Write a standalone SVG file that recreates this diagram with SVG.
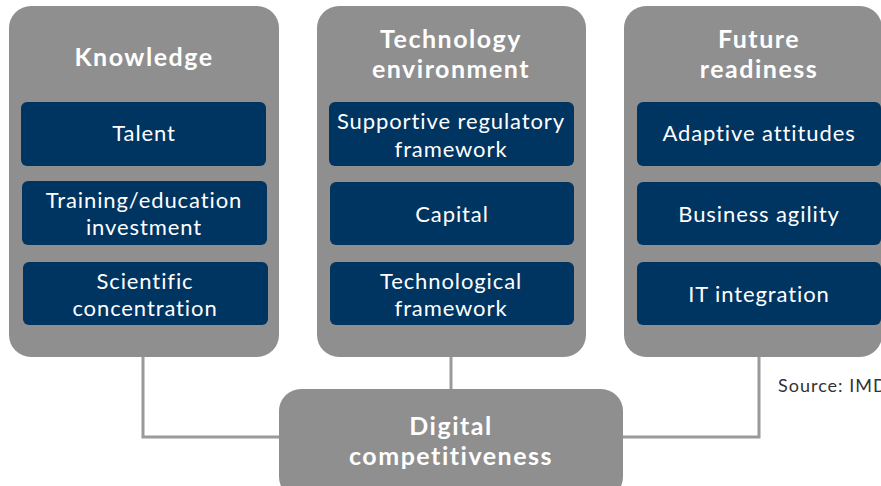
<svg xmlns="http://www.w3.org/2000/svg" width="881" height="486" viewBox="0 0 881 486">
  <style>
    .panel { fill: #8f8f8f; }
    .item { fill: #003461; }
    .title { font-family: Lato, "Open Sans", sans-serif; font-weight: 700; font-size: 25px; fill: #ffffff; text-anchor: middle; letter-spacing: 1.5px; }
    .label { font-family: Lato, "Open Sans", sans-serif; font-weight: 400; font-size: 22px; fill: #ffffff; text-anchor: middle; letter-spacing: 0.9px; }
    .link { fill: none; stroke: #9a9a9a; stroke-width: 3; }
    .note { font-family: Lato, "Open Sans", sans-serif; font-size: 18px; fill: #333333; letter-spacing: 1px; }
  </style>

  <rect width="881" height="486" fill="#ffffff"/>

  <!-- connectors -->
  <g id="connectors">
    <polyline class="link" points="143,357 143,437 280,437"/>
    <line class="link" x1="451" y1="357" x2="451" y2="390"/>
    <polyline class="link" points="759,357 759,437 622,437"/>
  </g>

  <!-- Knowledge pillar -->
  <g id="knowledge">
    <rect class="panel" x="9" y="6" width="270" height="351" rx="22"/>
    <text class="title" x="144" y="66">Knowledge</text>
    <rect class="item" x="21" y="102" width="245" height="64" rx="6"/>
    <text class="label" x="144" y="141">Talent</text>
    <rect class="item" x="22" y="181" width="245" height="64" rx="6"/>
    <text class="label" x="144" y="208">Training/education</text>
    <text class="label" x="144" y="235">investment</text>
    <rect class="item" x="23" y="262" width="245" height="63" rx="6"/>
    <text class="label" x="145" y="289">Scientific</text>
    <text class="label" x="145" y="316">concentration</text>
  </g>

  <!-- Technology environment pillar -->
  <g id="technology">
    <rect class="panel" x="317" y="6" width="269" height="351" rx="22"/>
    <text class="title" x="451" y="48">Technology</text>
    <text class="title" x="451" y="78">environment</text>
    <rect class="item" x="329" y="102" width="245" height="64" rx="6"/>
    <text class="label" x="451" y="129">Supportive regulatory</text>
    <text class="label" x="451" y="157">framework</text>
    <rect class="item" x="330" y="182" width="244" height="63" rx="6"/>
    <text class="label" x="452" y="222">Capital</text>
    <rect class="item" x="330" y="262" width="244" height="63" rx="6"/>
    <text class="label" x="451" y="289">Technological</text>
    <text class="label" x="451" y="316">framework</text>
  </g>

  <!-- Future readiness pillar -->
  <g id="future">
    <rect class="panel" x="624" y="6" width="258" height="351" rx="22"/>
    <text class="title" x="759" y="48">Future</text>
    <text class="title" x="759" y="78">readiness</text>
    <rect class="item" x="637" y="102" width="244" height="64" rx="6"/>
    <text class="label" x="759" y="141">Adaptive attitudes</text>
    <rect class="item" x="637" y="182" width="244" height="63" rx="6"/>
    <text class="label" x="759" y="222">Business agility</text>
    <rect class="item" x="637" y="262" width="244" height="63" rx="6"/>
    <text class="label" x="759" y="302">IT integration</text>
  </g>

  <!-- Outcome -->
  <g id="digital">
    <rect class="panel" x="279" y="389" width="344" height="110" rx="22"/>
    <text class="title" x="451" y="435">Digital</text>
    <text class="title" x="451" y="465">competitiveness</text>
  </g>

  <text class="note" x="778" y="392">Source: IMD</text>
</svg>
